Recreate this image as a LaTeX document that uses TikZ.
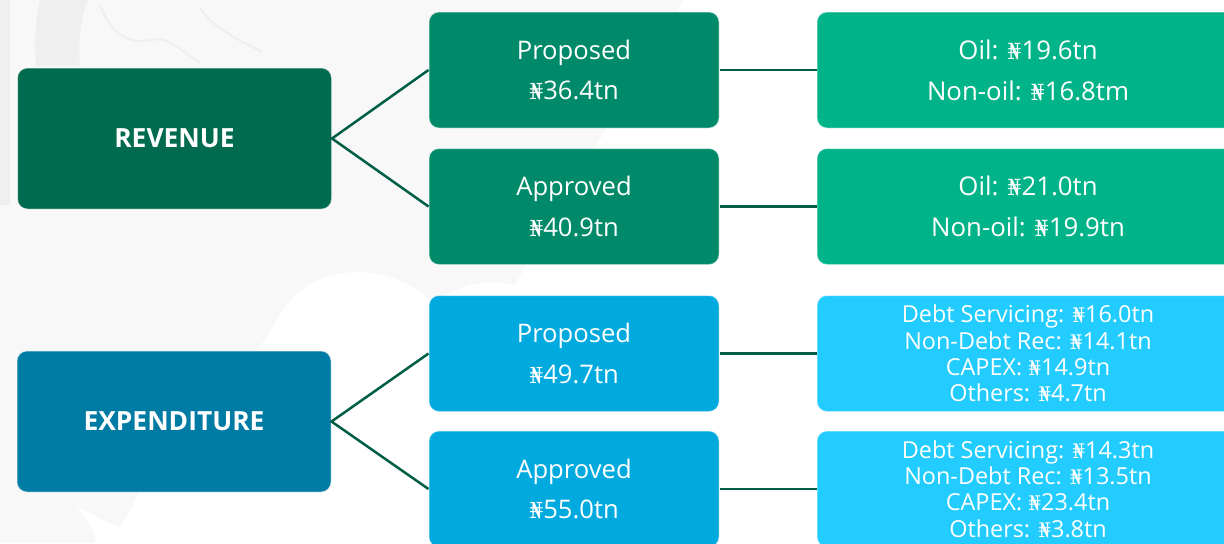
\documentclass[tikz,border=0pt]{standalone}
\usepackage{fontspec}
\setmainfont{Open Sans}
\newfontfamily\nairafont[Scale=0.86]{DejaVu Serif}
\newcommand\nairasign{{\nairafont\char"20A6}}

\definecolor{revdark}{HTML}{006B4E}
\definecolor{revmid}{HTML}{008A6A}
\definecolor{revlight}{HTML}{00B389}
\definecolor{expdark}{HTML}{007BA4}
\definecolor{expmid}{HTML}{00AADF}
\definecolor{explight}{HTML}{22CCFF}
\definecolor{linkgreen}{HTML}{005E47}
\definecolor{bgshade}{HTML}{F8F8F8}
\definecolor{bgdeep}{HTML}{EFEFEF}

\begin{document}
\begin{tikzpicture}[x=0.5pt,y=-0.5pt,
  box/.style={rectangle, rounded corners=5pt, text=white, align=center,
    inner sep=0pt, draw=white, draw opacity=0.45, line width=0.5pt},
  headbox/.style={box, minimum width=157pt, minimum height=70.5pt,
    font=\bfseries\fontsize{13.2}{16}\selectfont},
  midbox/.style={box, minimum width=145pt, minimum height=58pt,
    font=\fontsize{12.8}{20.3}\selectfont},
  widebox/.style={box, minimum width=211pt, minimum height=58pt,
    font=\fontsize{12.9}{20.5}\selectfont},
  detailbox/.style={widebox, font=\fontsize{11.7}{13.2}\selectfont},
  link/.style={draw=linkgreen, line width=1.25pt}]

% page area and faint backdrop
\clip (0,0) rectangle (1224,543);
\fill[white] (0,0) rectangle (1224,543);
\fill[bgshade] (0,0) -- (683,0) .. controls (620,110) and (560,200) .. (515,285)
  .. controls (470,275) and (440,300) .. (430,300)
  .. controls (390,262) and (310,258) .. (278,318)
  .. controls (255,360) and (200,420) .. (150,470)
  -- (130,510) -- (110,543) -- (0,543) -- cycle;
\fill[white] (75,506) .. controls (95,515) and (110,525) .. (122,528)
  -- (118,543) -- (96,543) .. controls (94,528) and (85,515) .. (75,506) -- cycle;
\fill[bgdeep] (0,0) rectangle (10,205);
\fill[bgdeep] (40,0) -- (88,0) .. controls (80,20) and (78,45) .. (80,66)
  -- (36,66) .. controls (34,40) and (36,15) .. (40,0) -- cycle;
\draw[bgdeep, line width=1pt] (100,5) .. controls (110,30) and (125,45) .. (150,40)
  .. controls (170,35) and (185,55) .. (200,62);
\draw[bgdeep, line width=1pt] (200,8) .. controls (215,30) and (240,40) .. (262,52);

% revenue branch
\node[headbox, fill=revdark] (rev) at (174.5,138.5) {REVENUE};
\node[midbox, fill=revmid] (revprop) at (574,70) {Proposed\\\nairasign36.4tn};
\node[midbox, fill=revmid] (revappr) at (574,206.5) {Approved\\\nairasign40.9tn};
\node[widebox, fill=revlight] (revpropsplit) at (1028,70)
  {Oil: \nairasign19.6tn\\Non-oil: \nairasign16.8tm};
\node[widebox, fill=revlight] (revapprsplit) at (1028,206.5)
  {Oil: \nairasign21.0tn\\Non-oil: \nairasign19.9tn};

% expenditure branch
\node[headbox, fill=expdark] (exp) at (174,421.5) {EXPENDITURE};
\node[midbox, fill=expmid] (expprop) at (574,353.5) {Proposed\\\nairasign49.7tn};
\node[midbox, fill=expmid] (expappr) at (574,489) {Approved\\\nairasign55.0tn};
\node[detailbox, fill=explight] (exppropsplit) at (1028,353.5)
  {Debt Servicing: \nairasign16.0tn\\Non-Debt Rec: \nairasign14.1tn\\CAPEX: \nairasign14.9tn\\Others: \nairasign4.7tn};
\node[detailbox, fill=explight] (expapprsplit) at (1028,489)
  {Debt Servicing: \nairasign14.3tn\\Non-Debt Rec: \nairasign13.5tn\\CAPEX: \nairasign23.4tn\\Others: \nairasign3.8tn};

% connectors
\draw[link] (revprop.west) -- (rev.east) -- (revappr.west);
\draw[link] (revprop.east) -- (revpropsplit.west);
\draw[link] (revappr.east) -- (revapprsplit.west);
\draw[link] (expprop.west) -- (exp.east) -- (expappr.west);
\draw[link] (expprop.east) -- (exppropsplit.west);
\draw[link] (expappr.east) -- (expapprsplit.west);
\end{tikzpicture}
\end{document}
